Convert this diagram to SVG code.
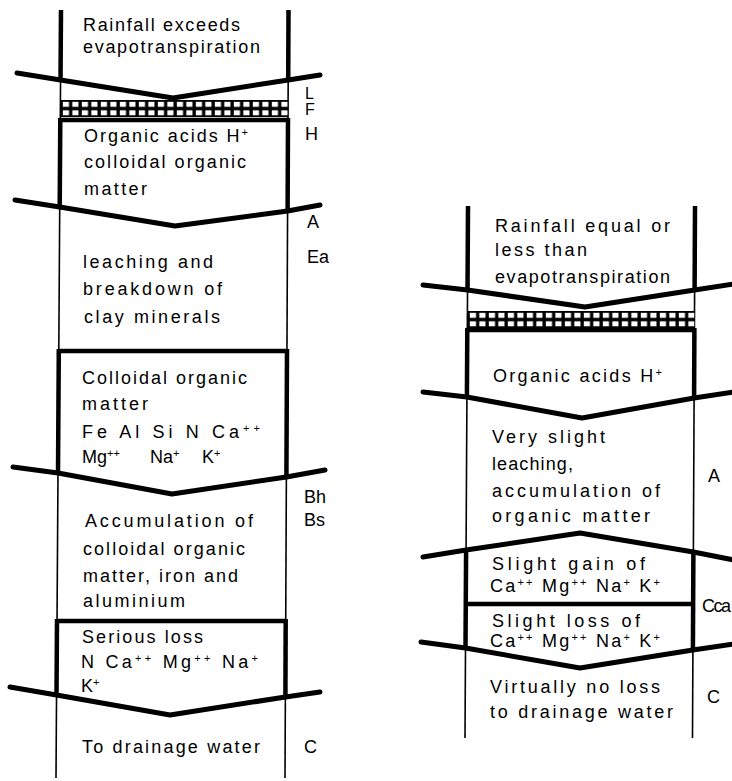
<svg xmlns="http://www.w3.org/2000/svg" width="732" height="781" viewBox="0 0 732 781">
<style>
.t{font-family:"Liberation Sans",Arial,sans-serif;font-size:18px;fill:#000;}
.lab{font-size:16px;}
.s{font-size:11px;baseline-shift:6px;}
.thin{stroke:#000;stroke-width:1.6;fill:none}
.thick{stroke:#000;stroke-width:4.5;fill:none;stroke-linecap:butt}
.hz{stroke:#000;stroke-width:5;fill:none;stroke-linecap:round;stroke-linejoin:round}
</style>
<defs>
<pattern id="gridL" patternUnits="userSpaceOnUse" x="61" y="100" width="9.5" height="8.5">
<rect width="9.5" height="8.5" fill="#000"/>
<rect x="1.8" y="1.8" width="6.2" height="5" fill="#fff"/>
</pattern>
<pattern id="gridR" patternUnits="userSpaceOnUse" x="468" y="311" width="9.5" height="8.5">
<rect width="9.5" height="8.5" fill="#000"/>
<rect x="1.8" y="1.8" width="6.2" height="5" fill="#fff"/>
</pattern>
</defs>
<rect width="732" height="781" fill="#fff"/>

<!-- LEFT PROFILE -->
<g id="left-profile">
<g id="left-walls">
<line class="thin" x1="61" y1="12" x2="56" y2="778"/>
<line class="thin" x1="288.5" y1="12" x2="285" y2="778"/>
<line class="thick" x1="61" y1="10" x2="60.5" y2="81"/>
<line class="thick" x1="288.5" y1="10" x2="288.2" y2="81"/>
<line class="thick" x1="60.3" y1="118" x2="59.7" y2="208"/>
<line class="thick" x1="288" y1="118" x2="287.6" y2="212"/>
<line class="thick" x1="58.8" y1="349" x2="58" y2="474"/>
<line class="thick" x1="287" y1="349" x2="286.4" y2="478"/>
<line class="thick" x1="57" y1="619" x2="56.5" y2="696"/>
<line class="thick" x1="285.7" y1="619" x2="285.4" y2="698"/>
</g>
<g id="L-litter">
<rect x="60.6" y="100" width="227.6" height="17" fill="url(#gridL)"/>
<line class="thick" x1="60.3" y1="120" x2="288" y2="120"/>
</g>
<g id="L-rain">
<text class="t" x="83" y="31" textLength="157">Rainfall exceeds</text>
<text class="t" x="83" y="53" textLength="177">evapotranspiration</text>
</g>
<g id="L-organic">
<text class="t" x="84" y="142" textLength="164">Organic acids H<tspan class="s">+</tspan></text>
<text class="t" x="84" y="168" textLength="162">colloidal organic</text>
<text class="t" x="84" y="195" textLength="63">matter</text>
</g>
<g id="L-ea">
<text class="t" x="83" y="268" textLength="130">leaching and</text>
<text class="t" x="83" y="295" textLength="139">breakdown of</text>
<text class="t" x="84" y="323" textLength="136">clay minerals</text>
</g>
<g id="L-colloid">
<line class="thick" x1="58.8" y1="351" x2="287" y2="351"/>
<text class="t" x="82" y="384" textLength="165">Colloidal organic</text>
<text class="t" x="82" y="410" textLength="66">matter</text>
<text class="t" x="82" y="438" textLength="178">Fe Al Si N Ca<tspan class="s">++</tspan></text>
<text class="t" x="82" y="463">Mg<tspan class="s">++</tspan></text>
<text class="t" x="150" y="463">Na<tspan class="s">+</tspan></text>
<text class="t" x="202" y="463">K<tspan class="s">+</tspan></text>
</g>
<g id="L-bhbs">
<text class="t" x="85" y="527" textLength="168">Accumulation of</text>
<text class="t" x="83" y="555" textLength="162">colloidal organic</text>
<text class="t" x="83" y="582" textLength="155">matter, iron and</text>
<text class="t" x="83" y="607" textLength="102">aluminium</text>
</g>
<g id="L-loss">
<line class="thick" x1="57" y1="621" x2="285.7" y2="621"/>
<text class="t" x="82" y="643" textLength="121">Serious loss</text>
<text class="t" x="81" y="668" textLength="177">N Ca<tspan class="s">++</tspan> Mg<tspan class="s">++</tspan> Na<tspan class="s">+</tspan></text>
<text class="t" x="81" y="692">K<tspan class="s">+</tspan></text>
</g>
<g id="L-c">
<text class="t" x="82" y="753" textLength="178">To drainage water</text>
</g>
<g id="L-labels">
<text class="t lab" x="305" y="99">L</text>
<text class="t lab" x="305" y="115">F</text>
<text class="t" x="305" y="140">H</text>
<text class="t" x="307" y="228">A</text>
<text class="t" x="307" y="263">Ea</text>
<text class="t" x="304" y="503">Bh</text>
<text class="t" x="304" y="526">Bs</text>
<text class="t" x="304" y="753">C</text>
</g>
</g>

<!-- RIGHT PROFILE -->
<g id="right-profile">
<g id="right-walls">
<line class="thin" x1="468" y1="208" x2="465" y2="738"/>
<line class="thin" x1="695" y1="208" x2="692.5" y2="738"/>
<line class="thick" x1="468" y1="206" x2="467.5" y2="291"/>
<line class="thick" x1="695" y1="206" x2="694.6" y2="291"/>
<line class="thick" x1="467.3" y1="328" x2="466.9" y2="398"/>
<line class="thick" x1="694.4" y1="328" x2="694.1" y2="399"/>
<line class="thick" x1="466.1" y1="549" x2="465.5" y2="649"/>
<line class="thick" x1="693.4" y1="551" x2="692.9" y2="651"/>
</g>
<g id="R-rain">
<text class="t" x="495" y="232" textLength="175">Rainfall equal or</text>
<text class="t" x="495" y="256" textLength="92">less than</text>
<text class="t" x="495" y="283" textLength="175">evapotranspiration</text>
</g>
<g id="R-litter">
<rect x="467.4" y="311" width="227.1" height="17" fill="url(#gridR)"/>
<line class="thick" x1="467.3" y1="330" x2="694.4" y2="330"/>
</g>
<g id="R-organic">
<text class="t" x="493" y="382" textLength="169">Organic acids H<tspan class="s">+</tspan></text>
</g>
<g id="R-a">
<text class="t" x="492" y="443" textLength="113">Very slight</text>
<text class="t" x="492" y="470" textLength="81">leaching,</text>
<text class="t" x="492" y="497" textLength="168">accumulation of</text>
<text class="t" x="492" y="522" textLength="158">organic matter</text>
</g>
<g id="R-cca">
<text class="t" x="492" y="570" textLength="153">Slight gain of</text>
<text class="t" x="490" y="592" textLength="170">Ca<tspan class="s">++</tspan> Mg<tspan class="s">++</tspan> Na<tspan class="s">+</tspan> K<tspan class="s">+</tspan></text>
<line class="thick" x1="465.8" y1="604" x2="693.1" y2="604"/>
<text class="t" x="492" y="627" textLength="148">Slight loss of</text>
<text class="t" x="490" y="647" textLength="170">Ca<tspan class="s">++</tspan> Mg<tspan class="s">++</tspan> Na<tspan class="s">+</tspan> K<tspan class="s">+</tspan></text>
</g>
<g id="R-c">
<text class="t" x="490" y="693" textLength="170">Virtually no loss</text>
<text class="t" x="490" y="718" textLength="183">to drainage water</text>
</g>
<g id="R-labels">
<text class="t" x="708" y="482">A</text>
<text class="t" x="702" y="612" textLength="29">Cca</text>
<text class="t" x="707" y="703">C</text>
</g>
</g>

<!-- horizon boundaries -->
<g id="connectors">
<polyline class="hz" points="17,73 60.6,80 173,98 288.2,80 320,75"/>
<polyline class="hz" points="15,200 59.7,207 175,226 287.6,211 320,205"/>
<polyline class="hz" points="13,467 58,473 172,494 286.4,477 325,470"/>
<polyline class="hz" points="10,687 56.5,695 170,715 285.4,697 320,692"/>
<polyline class="hz" points="423,285 467.5,290 585,307 694.6,290 734,284"/>
<polyline class="hz" points="423,392 466.9,397 582,418 694.1,398 734,392"/>
<polyline class="hz" points="423,557 466.1,550 580,533 693.4,552 734,560"/>
<polyline class="hz" points="421,642 465.5,648 580,668 692.9,650 734,644"/>
</g>
</svg>
